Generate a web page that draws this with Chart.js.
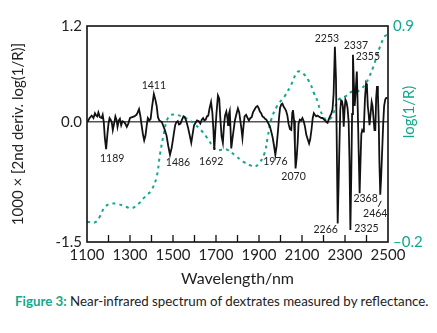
<!DOCTYPE html>
<html>
<head>
<meta charset="utf-8">
<script src="https://cdn.jsdelivr.net/npm/chart.js@4.4.1/dist/chart.umd.min.js"></script>
<style>
  html, body { margin: 0; padding: 0; background: #fff; }
  #wrap { position: relative; width: 437px; height: 333px; overflow: hidden; }
  #box { position: absolute; left: 0; top: 0; width: 437px; height: 292px; }
  #caption { position: absolute; left: 15px; top: 293px; font: 13.3px Lato, sans-serif; color: #222; white-space: nowrap; line-height: 17px; }
  #caption b { color: #12a88c; }
</style>
</head>
<body>
<div id="wrap">
  <div id="box"><canvas id="spec"></canvas></div>
  <div id="caption"><b>Figure 3:</b> Near-infrared spectrum of dextrates measured by reflectance.</div>
</div>
<script>
// 2nd derivative trace (x1000)
const derivNm = [1102,1112,1122,1130,1137,1143,1148,1153,1160,1168,1173,1178,1183,1189,1195,1200,1205,1210,1215,1220,
  1226,1232,1238,1242,1248,1253,1259,1265,1272,1278,1285,1292,1300,1310,1320,1330,1336,1342,1348,1354,
  1360,1366,1372,1378,1383,1390,1396,1403,1411,1418,1424,1430,1436,1442,1448,1455,1462,1470,1478,1486,
  1494,1502,1510,1516,1522,1528,1535,1542,1549,1555,1562,1570,1578,1585,1592,1598,1605,1612,1620,1627,
  1634,1640,1646,1652,1658,1664,1670,1677,1683,1688,1692,1697,1702,1709,1715,1720,1726,1732,1737,1742,
  1748,1753,1756,1760,1764,1767,1771,1776,1782,1788,1795,1802,1808,1813,1818,1823,1828,1833,1840,1847,
  1853,1860,1866,1872,1880,1887,1893,1899,1904,1910,1916,1922,1928,1934,1940,1946,1952,1958,1964,1970,
  1976,1982,1988,1993,1998,2004,2009,2015,2020,2026,2032,2038,2044,2050,2055,2058,2063,2067,2070,2075,
  2080,2084,2090,2096,2102,2108,2114,2120,2127,2133,2138,2144,2150,2155,2160,2166,2172,2178,2184,2190,
  2196,2202,2208,2214,2219,2224,2230,2236,2242,2247,2253,2258,2261,2264,2266,2270,2274,2278,2282,2286,
  2290,2294,2298,2302,2307,2312,2317,2321,2325,2329,2333,2337,2341,2345,2350,2355,2359,2363,2368,2372,
  2376,2380,2384,2388,2393,2398,2402,2406,2410,2414,2419,2424,2428,2432,2437,2441,2445,2449,2453,2457,
  2460,2464,2468,2473,2478,2482,2487,2492,2497];
const derivVal = [0.0,0.05,0.08,0.05,0.11,0.08,0.07,0.12,0.06,0.05,0.09,0.0,-0.2,-0.34,-0.15,-0.02,0.05,0.03,0.0,-0.1,
  -0.02,0.07,0.02,-0.06,0.02,0.04,-0.04,0.01,0.0,-0.02,-0.06,-0.02,0.05,0.06,0.07,0.09,0.12,0.16,0.08,-0.04,
  -0.15,-0.23,-0.17,-0.04,0.05,0.02,0.04,0.2,0.35,0.28,0.2,0.06,0.02,0.01,0.0,-0.05,-0.1,-0.17,-0.3,-0.41,
  -0.32,-0.18,-0.04,0.0,0.01,-0.03,-0.02,0.03,0.07,0.06,0.01,-0.07,-0.17,-0.26,-0.14,-0.04,-0.01,0.02,0.01,-0.02,
  0.03,0.05,0.02,0.03,0.07,0.08,0.17,0.25,0.12,-0.1,-0.35,-0.1,0.1,0.33,0.29,0.05,-0.18,-0.26,-0.05,0.08,
  0.13,0.05,-0.04,0.1,0.14,-0.05,-0.33,-0.22,-0.1,0.02,0.1,0.17,0.12,0.02,-0.08,-0.2,-0.05,0.07,0.09,0.05,
  0.02,0.05,0.06,0.12,0.16,0.19,0.2,0.17,0.13,0.11,0.07,0.06,0.04,0.03,0.0,-0.03,-0.07,-0.13,-0.2,-0.3,
  -0.41,-0.3,-0.12,0.05,0.18,0.22,0.23,0.19,0.17,0.14,0.08,-0.03,-0.09,-0.1,0.12,0.15,0.02,-0.3,-0.58,-0.45,
  -0.25,-0.02,0.03,0.02,0.05,0.01,-0.06,-0.16,-0.22,-0.27,-0.22,-0.1,0.05,0.11,0.09,0.07,0.08,0.07,0.06,0.05,
  0.05,0.03,0.02,0.0,-0.01,0.03,0.07,0.1,0.16,0.35,0.94,0.55,-0.1,-0.8,-1.27,-0.8,-0.3,0.15,0.27,0.26,
  0.2,-0.06,0.15,0.28,0.25,0.17,0.0,-0.5,-1.35,-0.7,0.1,0.84,0.5,0.2,0.4,0.63,0.2,-0.3,-0.89,-0.5,
  -0.15,-0.1,-0.12,-0.05,0.3,0.48,0.45,0.2,0.1,-0.04,0.1,0.25,0.2,0.07,-0.1,-0.1,0.3,0.45,0.35,0.0,
  -0.5,-0.91,-0.7,-0.35,0.0,0.2,0.28,0.3,0.3];

// log(1/R) trace
const logNm = [1100,1137,1160,1184,1215,1246,1280,1308,1340,1362,1385,1401,1424,1440,1458,1472,1490,1515,1540,1562,
  1601,1630,1655,1701,1725,1748,1790,1826,1860,1878,1900,1925,1940,1956,1987,2018,2049,2080,2103,2134,
  2155,2173,2184,2200,2215,2238,2269,2300,2331,2354,2375,2393,2412,2432,2463,2486,2500];
const logVal = [-0.097,-0.1,-0.07,-0.02,-0.005,-0.007,-0.02,-0.028,-0.005,0.022,0.045,0.065,0.132,0.25,0.355,0.42,0.447,0.448,0.44,0.43,
  0.4,0.37,0.336,0.268,0.27,0.272,0.24,0.209,0.19,0.183,0.2,0.25,0.33,0.42,0.498,0.54,0.6,0.667,0.66,0.616,
  0.56,0.515,0.472,0.44,0.42,0.437,0.523,0.54,0.565,0.565,0.58,0.6,0.64,0.693,0.795,0.849,0.855];

// band positions marked on the trace
const peakLabels = [1189,1411,1486,1692,1976,2070,2253,2266,2325,2337,2355,2368,2464];

const xTicks = [1100,1300,1500,1700,1900,2100,2300,2500];
const leftTicks = [-1.5, 0, 1.2];
const rightTicks = [-0.2, 0.9];

const TEAL = '#12a88c';
const FONT = 'Lato, "Noto Sans", sans-serif';

// text offsets (px) from each band point
const labelPos = {
  1189: [6, 9], 1411: [0, -8], 1486: [8, 8], 1692: [-3, 12], 1976: [0, 7], 2070: [-2, 8],
  2253: [-8, -8], 2266: [-12, 6], 2325: [16, -1], 2337: [3, -9], 2355: [11, -15],
  2368: [6, 5], 2464: [-5, 19]
};

const decor = {
  id: 'decor',
  beforeDatasetsDraw(chart) {
    const {ctx, chartArea: a, scales: {x}} = chart;
    ctx.save();
    ctx.strokeStyle = '#111';
    ctx.lineWidth = 1.3;
    ctx.beginPath();
    for (let v = 1200; v < 2500; v += 100) {
      const px = x.getPixelForValue(v);
      ctx.moveTo(px, a.bottom);
      ctx.lineTo(px, a.bottom - 7);
    }
    ctx.stroke();
    ctx.restore();
  },
  afterDatasetsDraw(chart) {
    const {ctx, chartArea: a, scales: {x, y}} = chart;
    ctx.save();
    ctx.strokeStyle = '#111';
    ctx.lineWidth = 1.6;
    ctx.strokeRect(a.left, a.top, a.right - a.left, a.bottom - a.top);

    ctx.font = '10.5px ' + FONT;
    ctx.fillStyle = '#222';
    ctx.textAlign = 'center';
    ctx.textBaseline = 'middle';
    peakLabels.forEach(nm => {
      const i = derivNm.indexOf(nm);
      const px = x.getPixelForValue(nm);
      const py = y.getPixelForValue(derivVal[i]);
      const off = labelPos[nm];
      ctx.fillText(String(nm), px + off[0], py + off[1]);
      if (nm === 2464) {
        ctx.lineWidth = 1;
        ctx.beginPath();
        ctx.moveTo(px + 1, py + 6);
        ctx.lineTo(px - 2, py + 12);
        ctx.stroke();
      }
    });

    // right axis title, reading upward
    ctx.fillStyle = TEAL;
    ctx.font = '15px ' + FONT;
    ctx.translate(409, 112);
    ctx.rotate(-Math.PI / 2);
    ctx.fillText('log(1/R)', 0, 0);
    ctx.restore();
  }
};

new Chart(document.getElementById('spec'), {
  type: 'line',
  data: {
    datasets: [
      {
        data: derivNm.map((nm, i) => ({x: nm, y: derivVal[i]})),
        yAxisID: 'y',
        borderColor: '#111',
        borderWidth: 1.8,
        pointRadius: 0,
        tension: 0
      },
      {
        data: logNm.map((nm, i) => ({x: nm, y: logVal[i]})),
        yAxisID: 'y2',
        borderColor: TEAL,
        borderWidth: 2,
        borderDash: [3, 4],
        pointRadius: 0,
        tension: 0.4
      }
    ]
  },
  plugins: [decor],
  options: {
    responsive: true,
    maintainAspectRatio: false,
    animation: false,
    layout: { padding: { top: 26, left: 0, right: 0, bottom: 0 } },
    plugins: { legend: { display: false }, tooltip: { enabled: false } },
    scales: {
      x: {
        type: 'linear',
        min: 1100,
        max: 2500,
        afterFit: s => { s.height = 50; },
        afterBuildTicks: s => { s.ticks = xTicks.map(v => ({value: v})); },
        ticks: {
          padding: 4, color: '#222', font: { family: FONT, size: 15 }, maxRotation: 0, autoSkip: false,
          callback: v => String(v)
        },
        grid: { display: false, drawTicks: false },
        border: { display: false },
        title: { display: true, text: 'Wavelength/nm', color: '#222', font: { family: FONT, size: 16 }, padding: { top: 0, bottom: 4 } }
      },
      y: {
        position: 'left',
        min: -1.5,
        max: 1.2,
        afterFit: s => { s.width = 87; },
        afterBuildTicks: s => { s.ticks = leftTicks.map(v => ({value: v})); },
        ticks: {
          padding: 5, color: '#222', font: { family: FONT, size: 15 },
          callback: v => v.toFixed(1)
        },
        grid: {
          drawTicks: false,
          lineWidth: 1.5,
          color: c => (c.tick && c.tick.value === 0 ? '#555' : 'rgba(0,0,0,0)')
        },
        border: { display: false },
        title: { display: true, text: '1000 × [2nd deriv. log(1/R)]', color: '#222', font: { family: FONT, size: 15 }, padding: { top: 9, bottom: 0 } }
      },
      y2: {
        position: 'right',
        min: -0.2,
        max: 0.9,
        afterFit: s => { s.width = 49; },
        afterBuildTicks: s => { s.ticks = rightTicks.map(v => ({value: v})); },
        ticks: {
          padding: 5, color: TEAL, font: { family: FONT, size: 15 },
          callback: v => (v < 0 ? '\u2013' : '') + Math.abs(v).toFixed(1)
        },
        grid: { display: false, drawTicks: false },
        border: { display: false }
      }
    }
  }
});
</script>
</body>
</html>
